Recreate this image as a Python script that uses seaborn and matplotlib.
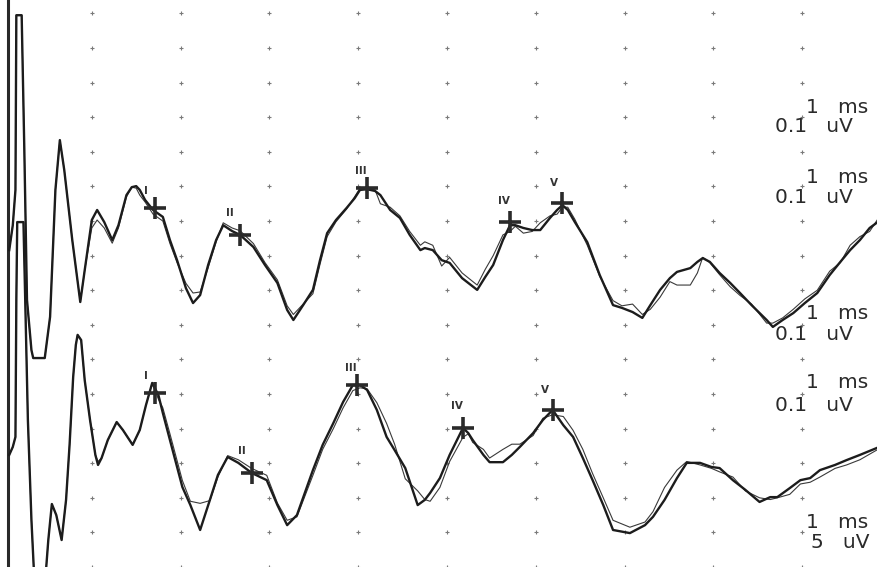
import numpy as np
import pandas as pd
import matplotlib
matplotlib.use("Agg")
import matplotlib.pyplot as plt
import seaborn as sns

# ---------------- data (time in ms, amplitude in grid divisions) ----------------
t_upper = [0.07, 0.11, 0.14, 0.15, 0.21, 0.24, 0.27, 0.32, 0.34, 0.47, 0.53, 0.59, 0.64, 0.69, 0.78, 0.87,
           0.92, 1.00, 1.06, 1.14, 1.23, 1.30, 1.39, 1.45, 1.50, 1.54, 1.60, 1.69, 1.80, 1.88, 1.96, 2.06,
           2.14, 2.22, 2.31, 2.40, 2.48, 2.58, 2.67, 2.82, 2.95, 3.09, 3.20, 3.27, 3.38, 3.49, 3.57, 3.65,
           3.75, 3.87, 3.96, 4.02, 4.10, 4.19, 4.25, 4.36, 4.47, 4.58, 4.70, 4.75, 4.84, 4.94, 5.03, 5.17,
           5.34, 5.43, 5.52, 5.63, 5.71, 5.77, 5.86, 5.96, 6.05, 6.16, 6.24, 6.30, 6.36, 6.44, 6.58, 6.72,
           6.87, 6.97, 7.09, 7.20, 7.29, 7.40, 7.51, 7.59, 7.74, 7.82, 7.88, 7.96, 8.07, 8.19, 8.30, 8.43,
           8.60, 8.67, 8.78, 8.90, 9.03, 9.17, 9.31, 9.43, 9.54, 9.65, 9.76, 9.85]
upper_a = [9.16, 9.88, 10.90, 15.95, 15.95, 12.05, 7.72, 6.27, 6.04, 6.04, 7.23, 10.90, 12.34, 11.47, 9.45, 7.66,
           8.58, 10.03, 10.32, 9.97, 9.45, 9.88, 10.75, 10.98, 11.01, 10.90, 10.61, 10.32, 10.12, 9.45, 8.87, 8.06,
           7.63, 7.86, 8.73, 9.45, 9.88, 9.71, 9.60, 9.25, 8.73, 8.21, 7.43, 7.14, 7.57, 8.01, 8.87, 9.65,
           10.03, 10.38, 10.66, 10.90, 10.92, 10.87, 10.75, 10.32, 10.09, 9.60, 9.16, 9.22, 9.16, 8.87, 8.79, 8.35,
           8.01, 8.38, 8.73, 9.45, 9.88, 9.88, 9.80, 9.74, 9.74, 10.09, 10.32, 10.46, 10.32, 9.97, 9.39, 8.44,
           7.57, 7.49, 7.37, 7.20, 7.57, 8.01, 8.35, 8.53, 8.64, 8.82, 8.93, 8.82, 8.50, 8.21, 7.92, 7.57,
           7.14, 6.94, 7.14, 7.34, 7.63, 7.92, 8.44, 8.82, 9.16, 9.45, 9.80, 9.97]
upper_b = [9.16, 9.88, 10.90, 15.95, 15.95, 12.05, 7.72, 6.27, 6.04, 6.04, 7.23, 10.90, 12.34, 11.47, 9.45, 7.66,
           8.58, 9.80, 10.03, 9.80, 9.36, 9.80, 10.70, 10.98, 10.95, 10.75, 10.55, 10.20, 10.00, 9.35, 8.80, 8.20,
           7.92, 7.95, 8.65, 9.40, 9.95, 9.80, 9.72, 9.35, 8.80, 8.30, 7.55, 7.30, 7.60, 7.90, 8.75, 9.55,
           9.98, 10.35, 10.70, 10.95, 10.95, 10.90, 10.50, 10.40, 10.15, 9.70, 9.30, 9.40, 9.30, 8.70, 8.95, 8.50,
           8.15, 8.60, 9.00, 9.60, 9.70, 9.85, 9.65, 9.70, 9.95, 10.15, 10.20, 10.40, 10.40, 10.05, 9.30, 8.40,
           7.70, 7.55, 7.60, 7.30, 7.45, 7.80, 8.25, 8.15, 8.15, 8.50, 8.95, 8.80, 8.45, 8.10, 7.85, 7.60,
           7.05, 7.05, 7.20, 7.45, 7.75, 8.00, 8.55, 8.80, 9.30, 9.55, 9.70, 10.05]

t_lower = [0.07, 0.11, 0.14, 0.15, 0.16, 0.23, 0.25, 0.28, 0.32, 0.35, 0.48, 0.51, 0.55, 0.60, 0.66, 0.71,
           0.75, 0.79, 0.82, 0.84, 0.88, 0.92, 0.98, 1.04, 1.07, 1.11, 1.18, 1.28, 1.35, 1.46, 1.54, 1.61,
           1.68, 1.75, 1.80, 1.88, 2.02, 2.11, 2.22, 2.33, 2.42, 2.53, 2.65, 2.80, 2.97, 3.09, 3.20, 3.31,
           3.49, 3.60, 3.72, 3.83, 3.94, 4.02, 4.10, 4.21, 4.32, 4.41, 4.53, 4.67, 4.75, 4.81, 4.92, 5.03,
           5.18, 5.24, 5.29, 5.41, 5.48, 5.63, 5.73, 5.82, 5.97, 6.08, 6.19, 6.31, 6.42, 6.53, 6.64, 6.76,
           6.87, 7.06, 7.23, 7.32, 7.45, 7.59, 7.70, 7.85, 7.98, 8.07, 8.22, 8.36, 8.52, 8.64, 8.72, 8.86,
           8.98, 9.09, 9.20, 9.37, 9.50, 9.65, 9.84]
lower_a = [3.24, 3.47, 3.76, 7.72, 9.97, 9.97, 7.72, 4.25, 1.36, -0.23, -0.23, 0.78, 1.82, 1.50, 0.78, 1.94,
           3.55, 5.49, 6.42, 6.71, 6.56, 5.40, 4.25, 3.24, 2.95, 3.15, 3.67, 4.19, 3.96, 3.53, 3.96, 4.68,
           5.32, 4.97, 4.45, 3.67, 2.31, 1.79, 1.07, 1.94, 2.66, 3.18, 3.01, 2.72, 2.51, 1.79, 1.21, 1.50,
           2.80, 3.53, 4.16, 4.77, 5.26, 5.26, 5.12, 4.54, 3.76, 3.38, 2.86, 1.79, 1.94, 2.14, 2.57, 3.24,
           4.02, 3.87, 3.67, 3.24, 3.03, 3.03, 3.24, 3.47, 3.87, 4.25, 4.54, 4.10, 3.76, 3.15, 2.51, 1.79,
           1.07, 0.98, 1.21, 1.45, 1.94, 2.57, 3.01, 3.01, 2.89, 2.86, 2.51, 2.23, 1.88, 2.02, 2.02, 2.28,
           2.51, 2.57, 2.80, 2.95, 3.09, 3.24, 3.44]
lower_b = [3.24, 3.47, 3.76, 7.72, 9.97, 9.97, 7.72, 4.25, 1.36, -0.23, -0.23, 0.78, 1.82, 1.50, 0.78, 1.94,
           3.55, 5.49, 6.42, 6.71, 6.56, 5.40, 4.25, 3.24, 3.05, 3.15, 3.67, 4.19, 3.96, 3.53, 3.96, 4.68,
           5.32, 4.85, 4.60, 3.85, 2.50, 1.90, 1.84, 1.92, 2.60, 3.22, 3.10, 2.85, 2.65, 1.85, 1.35, 1.45,
           2.65, 3.40, 4.00, 4.60, 5.10, 5.18, 5.15, 4.75, 4.15, 3.55, 2.55, 2.20, 1.95, 1.90, 2.30, 3.05,
           3.75, 3.85, 3.60, 3.40, 3.15, 3.40, 3.55, 3.55, 3.80, 4.30, 4.40, 4.35, 3.95, 3.40, 2.70, 2.00,
           1.35, 1.15, 1.30, 1.60, 2.30, 2.80, 3.05, 2.95, 2.85, 2.75, 2.60, 2.20, 2.00, 1.95, 2.00, 2.10,
           2.40, 2.45, 2.60, 2.85, 2.95, 3.10, 3.38]

peak_names = ["I", "II", "III", "IV", "V"]
upper_peak_t = [1.71, 2.67, 4.10, 5.71, 6.30]
upper_peak_v = [10.38, 9.60, 10.95, 9.97, 10.52]
lower_peak_t = [1.71, 2.80, 3.99, 5.18, 6.19]
lower_peak_v = [5.03, 2.72, 5.26, 4.02, 4.54]

scale_time = ["1 ms", "1 ms", "1 ms", "1 ms", "1 ms"]
scale_amp = ["0.1 uV", "0.1 uV", "0.1 uV", "0.1 uV", "5 uV"]

# ---------------- figure ----------------
fig = plt.figure(figsize=(8.78, 5.67), dpi=100)
fig.patch.set_facecolor("white")
ax = fig.add_axes([0, 0, 1, 1])
ax.set_facecolor("white")
ax.set_xlim(-0.034, 9.854)
ax.set_ylim(0, 16.39)
ax.axis("off")

# dotted grid (1 ms x 1 division)
gx, gy = np.meshgrid(np.arange(1, 10), np.arange(0, 17))
sns.scatterplot(x=gx.ravel(), y=gy.ravel(), marker="+", s=12, color="#7a7a7a",
                linewidth=0.8, ax=ax, legend=False, zorder=1)

# left border
ax.axvline(0.056, color="#2a2a2a", lw=2.2, zorder=2)

# traces
for t, y, lw, col in [(t_upper, upper_b, 0.8, "#3a3a3a"), (t_upper, upper_a, 1.7, "#1c1c1c"),
                      (t_lower, lower_b, 0.8, "#3a3a3a"), (t_lower, lower_a, 1.7, "#1c1c1c")]:
    sns.lineplot(x=t, y=y, sort=False, estimator=None, color=col, lw=lw, ax=ax, zorder=3)

# peak markers
for pt, pv in [(upper_peak_t, upper_peak_v), (lower_peak_t, lower_peak_v)]:
    sns.scatterplot(x=pt, y=pv, marker="+", s=230, color="#2a2a2a", linewidth=2.6,
                    ax=ax, legend=False, zorder=4)

# peak labels
lab_off = [(-0.10, 0.50), (-0.11, 0.62), (-0.07, 0.50), (-0.07, 0.62), (-0.09, 0.58)]
for i, name in enumerate(peak_names):
    dx, dy = lab_off[i]
    ax.text(upper_peak_t[i] + dx, upper_peak_v[i] + dy, name, fontsize=7.5, fontweight="bold",
            color="#333333", ha="center", va="center", family="DejaVu Sans")
    ax.text(lower_peak_t[i] + dx, lower_peak_v[i] + dy, name, fontsize=7.5, fontweight="bold",
            color="#333333", ha="center", va="center", family="DejaVu Sans")

# scale annotations
scale_v = [(13.29, 12.72), (11.27, 10.69), (7.34, 6.71), (5.32, 4.68), (1.30, 0.72)]
for i in range(5):
    vt, va_ = scale_v[i]
    ax.text(9.74, vt, scale_time[i].replace(" ", "   "), fontsize=14.5, color="#2a2a2a",
            ha="right", va="center", family="DejaVu Sans")
    xr = 9.76 if scale_amp[i].startswith("5") else 9.57
    ax.text(xr, va_, scale_amp[i].replace(" ", "   "), fontsize=14.5, color="#2a2a2a",
            ha="right", va="center", family="DejaVu Sans")

fig.savefig("out.png", dpi=100, facecolor="white")
